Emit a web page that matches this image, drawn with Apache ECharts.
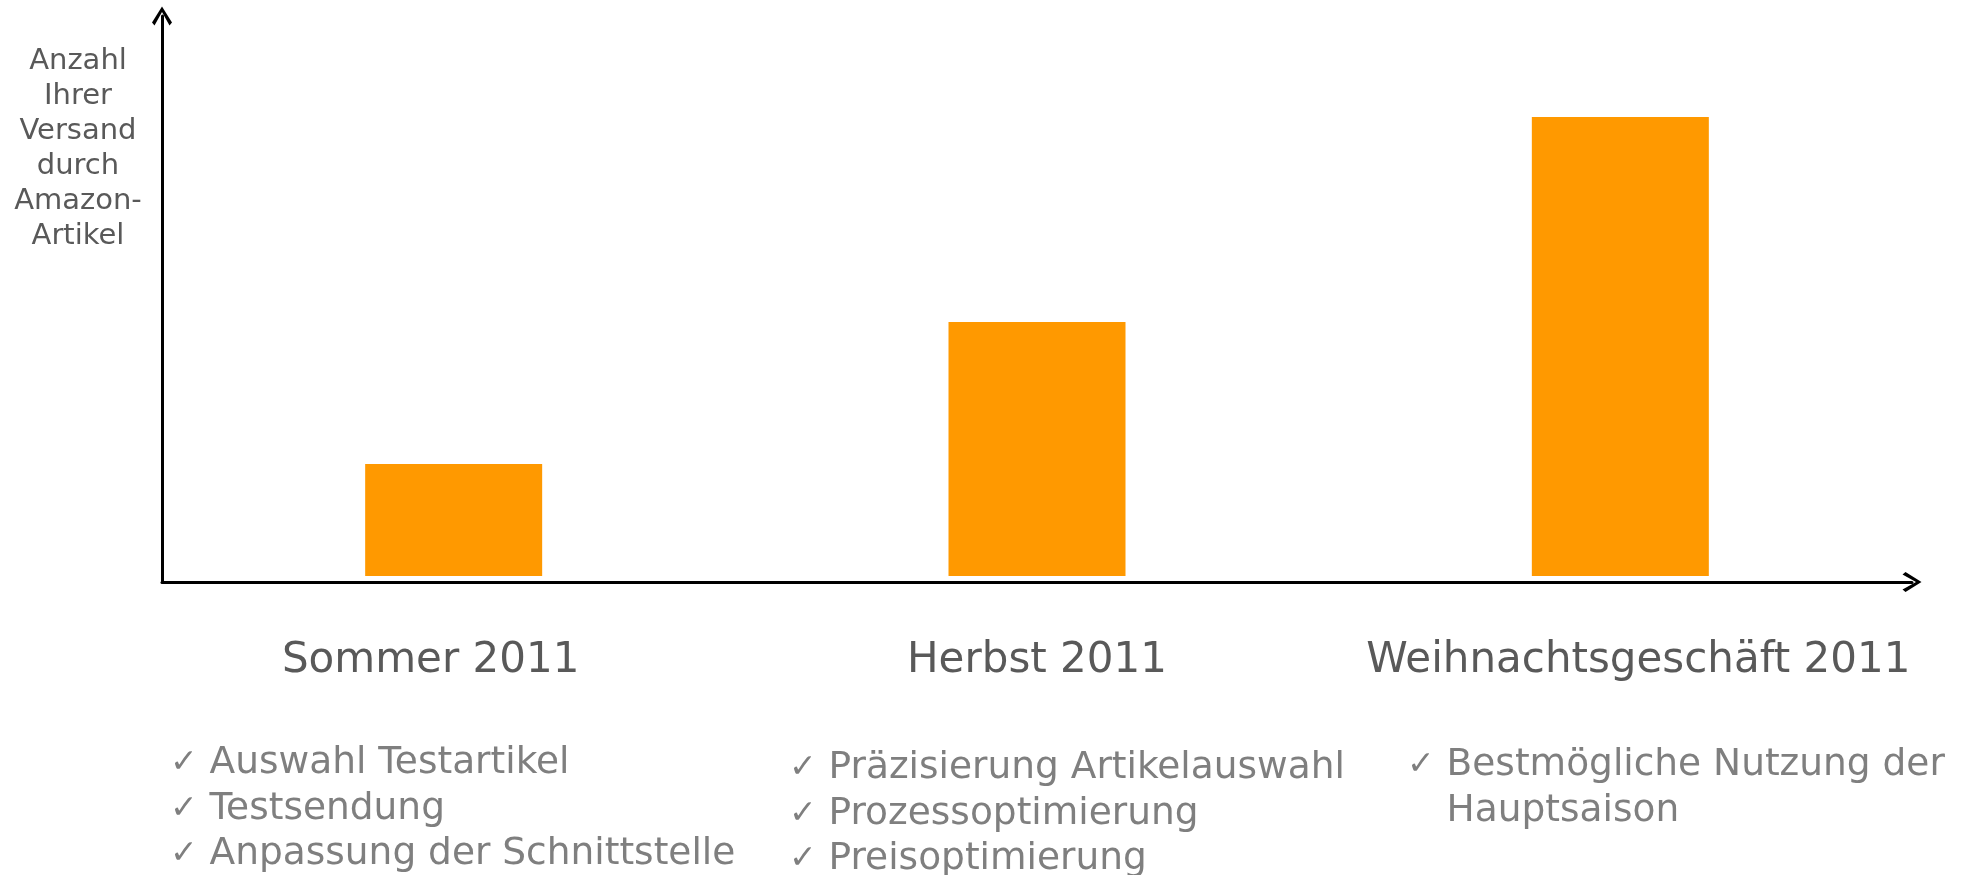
<!DOCTYPE html>
<html>
<head>
<meta charset="utf-8">
<script src="https://cdn.jsdelivr.net/npm/echarts@6/dist/echarts.min.js"></script>
<style>
html,body{margin:0;padding:0;background:#fff;}
#chart{width:1968px;height:875px;}
</style>
</head>
<body>
<div id="chart"></div>
<script>
// ---- data ----
const categories = ['Sommer 2011', 'Herbst 2011', 'Weihnachtsgeschäft 2011'];
const values = [112, 254, 459]; // relative number of articles
const yAxisTitleLines = ['Anzahl', 'Ihrer', 'Versand', 'durch', 'Amazon-', 'Artikel'];
const bulletsSommer = ['Auswahl Testartikel', 'Testsendung', 'Anpassung der Schnittstelle'];
const bulletsHerbst = ['Präzisierung Artikelauswahl', 'Prozessoptimierung', 'Preisoptimierung'];
const bulletsWeihnacht = ['Bestmögliche Nutzung der', 'Hauptsaison'];

// ---- helpers ----
const FONT = '"DejaVu Sans", Verdana, sans-serif';
const chevron = 'path://M0,16 L10,0 L20,16 L17.5,19 L10,5.5 L2.5,19 Z';
// horizontal nudges of the category labels (padding: [top, right, bottom, left])
const labelPads = [[0, 46, 0, 0], [0, 0, 0, 0], [0, 0, 0, 36]];

function bulletText(lines, continuationFrom) {
  return lines.map((l, i) => {
    const mark = (continuationFrom !== undefined && i >= continuationFrom) ? '{h|✓}' : '{c|✓}';
    return mark + ' ' + l;
  }).join('\n');
}
function bulletGraphic(lines, x, y, continuationFrom) {
  return {
    type: 'text', x: x, y: y,
    style: {
      text: bulletText(lines, continuationFrom),
      fill: '#7f7f7f',
      fontFamily: FONT,
      fontSize: 37.5,
      lineHeight: 45.5,
      align: 'left',
      verticalAlign: 'top',
      rich: {
        c: { fontSize: 33, fill: '#7f7f7f', fontFamily: FONT, lineHeight: 45.5 },
        h: { fontSize: 33, fill: 'rgba(0,0,0,0)', fontFamily: FONT, lineHeight: 45.5 }
      }
    }
  };
}

const chart = echarts.init(document.getElementById('chart'));
chart.setOption({
  animation: false,
  backgroundColor: '#ffffff',
  grid: { left: 162, right: 56, top: 16, bottom: 293, containLabel: false },
  xAxis: {
    type: 'category',
    data: categories.map((c, i) => ({ value: c, textStyle: { padding: labelPads[i] } })),
    axisLine: {
      show: true, onZero: false,
      lineStyle: { color: '#000', width: 3 },
      symbol: ['none', chevron],
      symbolSize: [21, 19]
    },
    axisTick: { show: false },
    axisLabel: {
      margin: 58,
      fontSize: 42,
      lineHeight: 42,
      color: '#595959',
      fontFamily: FONT,
      interval: 0
    },
    splitLine: { show: false }
  },
  yAxis: {
    type: 'value',
    min: -6,
    max: 560,
    axisLine: {
      show: true,
      lineStyle: { color: '#000', width: 3 },
      symbol: ['none', chevron],
      symbolSize: [21, 19]
    },
    axisTick: { show: false },
    axisLabel: { show: false },
    splitLine: { show: false }
  },
  series: [{
    type: 'bar',
    data: values,
    barWidth: 177,
    itemStyle: { color: '#FF9900' },
    label: { show: false }
  }],
  graphic: [
    {
      type: 'text', x: 78, y: 44,
      style: {
        text: yAxisTitleLines.join('\n'),
        fill: '#595959',
        fontFamily: FONT,
        fontSize: 29,
        lineHeight: 35,
        align: 'center',
        verticalAlign: 'top'
      }
    },
    bulletGraphic(bulletsSommer, 170, 741),
    bulletGraphic(bulletsHerbst, 789, 746),
    bulletGraphic(bulletsWeihnacht, 1407, 743, 1)
  ]
});
</script>
</body>
</html>
